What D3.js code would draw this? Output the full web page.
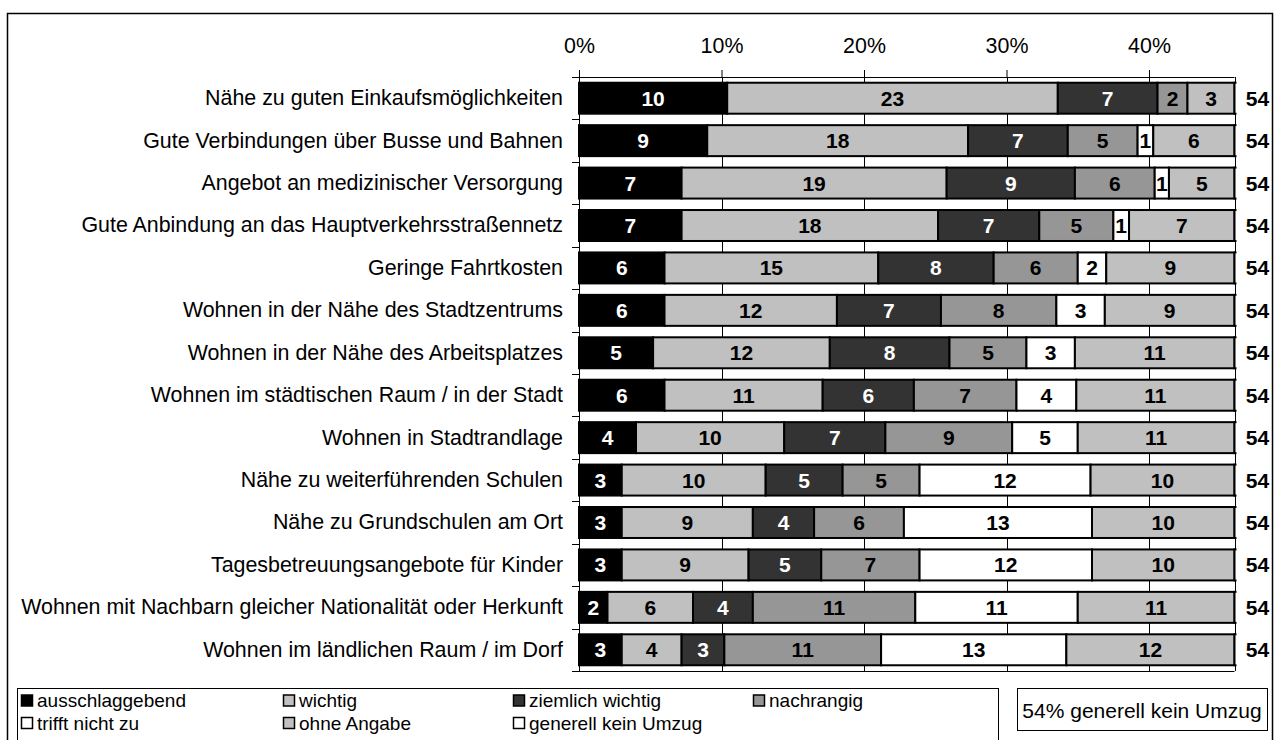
<!DOCTYPE html>
<html>
<head>
<meta charset="utf-8">
<script src="https://cdn.jsdelivr.net/npm/d3@7"></script>
<style>
  body { margin: 0; background: #fff; }
  svg { display: block; font-family: Arial, "Liberation Sans", sans-serif; }
</style>
</head>
<body>
<div id="chart"></div>
<script>
// data (percent of respondents)
const categories = [
   'Nähe zu guten Einkaufsmöglichkeiten',
   'Gute Verbindungen über Busse und Bahnen',
   'Angebot an medizinischer Versorgung',
   'Gute Anbindung an das Hauptverkehrsstraßennetz',
   'Geringe Fahrtkosten',
   'Wohnen in der Nähe des Stadtzentrums',
   'Wohnen in der Nähe des Arbeitsplatzes',
   'Wohnen im städtischen Raum / in der Stadt',
   'Wohnen in Stadtrandlage',
   'Nähe zu weiterführenden Schulen',
   'Nähe zu Grundschulen am Ort',
   'Tagesbetreuungsangebote für Kinder',
   'Wohnen mit Nachbarn gleicher Nationalität oder Herkunft',
   'Wohnen im ländlichen Raum / im Dorf'
];
const ausschlaggebend = [10.4, 9.0, 7.2, 7.2, 6.0, 6.0, 5.2, 6.0, 4.0, 3.0, 3.0, 3.0, 2.0, 3.0];
const wichtig =         [23.2, 18.3, 18.6, 18.0, 15.0, 12.1, 12.4, 11.1, 10.4, 10.1, 9.2, 8.9, 6.0, 4.2];
const ziemlichWichtig = [7.0, 7.0, 9.0, 7.1, 8.1, 7.3, 8.4, 6.4, 7.1, 5.4, 4.3, 5.1, 4.2, 3.0];
const nachrangig =      [2.1, 4.9, 5.6, 5.2, 5.9, 8.1, 5.4, 7.2, 8.9, 5.4, 6.3, 6.9, 11.4, 11.0];
const trifftNichtZu =   [0, 1.1, 1.0, 1.1, 2.0, 3.4, 3.4, 4.2, 4.6, 12.0, 13.2, 12.1, 11.4, 13.0];
const ohneAngabe =      [3.3, 5.7, 4.6, 7.4, 9.0, 9.1, 11.2, 11.1, 11.0, 10.1, 10.0, 10.0, 11.0, 11.8];
const generellKeinUmzug = [54, 54, 54, 54, 54, 54, 54, 54, 54, 54, 54, 54, 54, 54];
const tickValues = [0, 10, 20, 30, 40];

const series = [
   {key: 'ausschlaggebend', label: 'ausschlaggebend', values: ausschlaggebend, fill: '#000000', text: '#ffffff'},
   {key: 'wichtig', label: 'wichtig', values: wichtig, fill: '#c0c0c0', text: '#000000'},
   {key: 'ziemlich', label: 'ziemlich wichtig', values: ziemlichWichtig, fill: '#333333', text: '#ffffff'},
   {key: 'nachrangig', label: 'nachrangig', values: nachrangig, fill: '#969696', text: '#000000'},
   {key: 'trifft', label: 'trifft nicht zu', values: trifftNichtZu, fill: '#ffffff', text: '#000000'},
   {key: 'ohne', label: 'ohne Angabe', values: ohneAngabe, fill: '#c0c0c0', text: '#000000'},
   {key: 'kein', label: 'generell kein Umzug', values: generellKeinUmzug, fill: '#ffffff', text: '#000000'}
];

// frame measurements
const W = 1283, H = 740;
const margin = {top: 77, left: 579};
const plotW = 655.5;   // 0..46 %
const plotH = 594;
const xMax = 46;

const table = categories.map((c, i) => {
   const row = {category: c};
   series.forEach(s => row[s.key] = s.values[i]);
   return row;
});

const stacked = d3.stack().keys(series.map(s => s.key))(table);

const x = d3.scaleLinear().domain([0, xMax]).range([0, plotW]);
const y = d3.scaleBand()
   .domain(categories)
   .range([0, plotH])
   .paddingInner(0.27)
   .paddingOuter(0.135);

const svg = d3.select('#chart').append('svg')
   .attr('width', W)
   .attr('height', H);

svg.append('rect').attr('width', W).attr('height', H).attr('fill', '#fff');

// outer frame
svg.append('rect')
   .attr('x', 7.5).attr('y', 13.5)
   .attr('width', 1265).attr('height', 740)
   .attr('fill', 'none').attr('stroke', '#000').attr('stroke-width', 1.5);

const chart = svg.append('g').attr('transform', `translate(${margin.left},${margin.top})`);

svg.append('defs').append('clipPath').attr('id', 'plotclip')
   .append('rect').attr('x', -5).attr('y', -5).attr('width', plotW + 7).attr('height', plotH + 10);

// vertical gridlines
chart.append('g').selectAll('line')
   .data(tickValues.concat([xMax]))
   .join('line')
   .attr('x1', d => Math.round(x(d)) + 0.5).attr('x2', d => Math.round(x(d)) + 0.5)
   .attr('y1', 0).attr('y2', plotH)
   .attr('stroke', '#000').attr('stroke-width', 1);

// top axis
const xAxis = d3.axisTop(x)
   .tickValues(tickValues)
   .tickFormat(d => d + '%')
   .tickSizeInner(7)
   .tickSizeOuter(0)
   .tickPadding(17);
const gx = chart.append('g').call(xAxis);
gx.select('.domain').remove();
gx.selectAll('.tick text').attr('font-size', 21.4).attr('font-family', 'Arial, "Liberation Sans", sans-serif').attr('fill', '#000');

// top and bottom lines
chart.append('g').selectAll('line')
   .data([0, plotH])
   .join('line')
   .attr('x1', -7).attr('x2', plotW)
   .attr('y1', d => d + 0.5).attr('y2', d => d + 0.5)
   .attr('stroke', '#000').attr('stroke-width', 1);

// left axis
const yAxis = d3.axisLeft(y).tickSize(0).tickPadding(16);
const gy = chart.append('g').call(yAxis);
gy.select('.domain').remove();
gy.selectAll('.tick text').attr('font-size', 21.4).attr('font-family', 'Arial, "Liberation Sans", sans-serif').attr('fill', '#000');

// category boundary ticks on the left
chart.append('g').selectAll('line')
   .data(d3.range(categories.length + 1))
   .join('line')
   .attr('x1', -7).attr('x2', 0)
   .attr('y1', i => Math.round(i * y.step()) + 0.5).attr('y2', i => Math.round(i * y.step()) + 0.5)
   .attr('stroke', '#000');

chart.append('line')
   .attr('x1', 0.5).attr('x2', 0.5).attr('y1', -7).attr('y2', plotH)
   .attr('stroke', '#000');

// bars
const bars = chart.append('g').attr('clip-path', 'url(#plotclip)');
bars.selectAll('g')
   .data(stacked)
   .join('g')
   .attr('fill', (d, i) => series[i].fill)
   .selectAll('rect')
   .data(d => d.filter(p => p[1] - p[0] > 0))
   .join('rect')
   .attr('x', d => x(d[0]))
   .attr('y', d => y(d.data.category))
   .attr('width', d => x(d[1]) - x(d[0]))
   .attr('height', y.bandwidth())
   .attr('stroke', '#000')
   .attr('stroke-width', 2);

// value labels
const labels = chart.append('g')
   .attr('font-size', 21)
   .attr('font-weight', 'bold')
   .attr('text-anchor', 'middle');
stacked.forEach((layer, i) => {
   const last = i === stacked.length - 1;
   labels.append('g')
      .selectAll('text')
      .data(layer.filter(p => p[1] - p[0] >= 0.5))
      .join('text')
      .attr('x', d => last ? plotW + 23 : (x(d[0]) + x(d[1])) / 2)
      .attr('y', d => y(d.data.category) + y.bandwidth() / 2)
      .attr('dy', '0.36em')
      .attr('fill', series[i].text)
      .text(d => Math.round(d[1] - d[0]));
});

// legend
const legend = svg.append('g');
legend.append('rect')
   .attr('x', 17.5).attr('y', 688.5).attr('width', 981).attr('height', 60)
   .attr('fill', '#fff').attr('stroke', '#000');
const legendCols = [21, 283, 513, 753];
const legendRows = [700.5, 723];
const legendItems = legend.selectAll('g')
   .data(series)
   .join('g')
   .attr('transform', (d, i) => `translate(${legendCols[i % 4]},${legendRows[i < 4 ? 0 : 1]})`);
legendItems.append('rect')
   .attr('x', 0.5).attr('y', -5.5).attr('width', 11).attr('height', 11)
   .attr('fill', d => d.fill).attr('stroke', '#000').attr('stroke-width', 1.5);
legendItems.append('text')
   .attr('x', 16).attr('y', 0).attr('dy', '0.36em')
   .attr('font-size', 19)
   .text(d => d.label);

// note box
svg.append('rect')
   .attr('x', 1017.5).attr('y', 688.5).attr('width', 250).attr('height', 42)
   .attr('fill', '#fff').attr('stroke', '#000');
svg.append('text')
   .attr('x', 1142).attr('y', 710).attr('dy', '0.36em')
   .attr('text-anchor', 'middle').attr('font-size', 21)
   .text(`${generellKeinUmzug[0]}% generell kein Umzug`);
</script>
</body>
</html>
